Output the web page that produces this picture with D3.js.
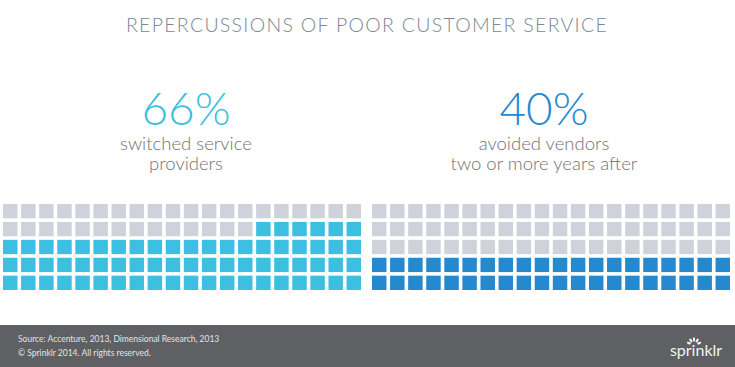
<!DOCTYPE html>
<html>
<head>
<meta charset="utf-8">
<script src="https://cdn.jsdelivr.net/npm/d3@7"></script>
<style>
  body { margin: 0; background: #fff; }
  svg { display: block; font-family: Lato, "Open Sans", sans-serif; }
  .light { font-family: "Lato Light", "Open Sans Light", Lato, sans-serif; font-weight: 300; }
</style>
</head>
<body>
<div id="chart"></div>
<script>
// data
const stats = [66, 40];
const statLabels = [
    ["switched service", "providers"],
    ["avoided vendors", "two or more years after"]
];
const statColors = ["#3cbfe0", "#2589cf"];
const emptyColor = "#cfd2da";
const title = "REPERCUSSIONS OF POOR CUSTOMER SERVICE";
const footerLines = ["Source: Accenture, 2013, Dimensional Research, 2013", "\u00a9 Sprinklr 2014. All rights reserved."];

const width = 735, height = 367;
const cols = 20, rows = 5;

const svg = d3.select("#chart")
    .append("svg")
    .attr("width", width)
    .attr("height", height);

svg.append("rect")
    .attr("width", width)
    .attr("height", height)
    .attr("fill", "#fff");

// title
svg.append("text")
    .attr("class", "light")
    .attr("x", 367)
    .attr("y", 32)
    .attr("text-anchor", "middle")
    .attr("fill", "#7b8793")
    .style("font-size", "19.5px")
    .style("letter-spacing", "1.3px")
    .text(title);

// each panel: big number, label, waffle
const panels = [
    { cx: 186, x0: 3, x1: 361 },
    { cx: 544, x0: 372, x1: 730 }
];

const y = d3.scaleBand()
    .domain(d3.range(rows))
    .range([204, 290])
    .paddingInner(0.2);

stats.forEach((value, p) => {
    const panel = panels[p];
    const g = svg.append("g");

    g.append("text")
        .attr("class", "light")
        .attr("x", panel.cx)
        .attr("y", 125)
        .attr("text-anchor", "middle")
        .attr("fill", statColors[p])
        .style("font-size", "46px")
        .text(value + "%");

    statLabels[p].forEach((line, i) => {
        g.append("text")
            .attr("class", "light")
            .attr("x", panel.cx)
            .attr("y", 150 + i * 20)
            .attr("text-anchor", "middle")
            .attr("fill", "#727274")
            .style("font-size", "18.5px")
            .text(line);
    });

    const x = d3.scaleBand()
        .domain(d3.range(cols))
        .range([panel.x0, panel.x1])
        .paddingInner(0.2);

    // fill from bottom-right, right to left, bottom row up
    const cells = d3.range(cols * rows).map(i => ({
        col: cols - 1 - (i % cols),
        row: rows - 1 - Math.floor(i / cols),
        on: i < value
    }));

    g.selectAll("rect.cell")
        .data(cells)
        .join("rect")
        .attr("class", "cell")
        .attr("x", d => x(d.col))
        .attr("y", d => y(d.row))
        .attr("width", x.bandwidth())
        .attr("height", y.bandwidth())
        .attr("fill", d => d.on ? statColors[p] : emptyColor);
});

// footer
svg.append("rect")
    .attr("x", 0)
    .attr("y", 325)
    .attr("width", width)
    .attr("height", height - 325)
    .attr("fill", "#5e6064");

footerLines.forEach((line, i) => {
    svg.append("text")
        .attr("x", 18)
        .attr("y", 342 + i * 13.5)
        .attr("fill", "#e2e3e5")
        .style("font-size", "8.5px")
        .text(line);
});

// logo: small burst above the word
const logo = svg.append("g").attr("transform", "translate(694,345)");
[-70, -35, 0, 35, 70].forEach(a => {
    logo.append("ellipse")
        .attr("cx", 0)
        .attr("cy", -5.5)
        .attr("rx", 1.1)
        .attr("ry", 2.2)
        .attr("fill", "#f2f2f2")
        .attr("transform", `rotate(${a})`);
});
svg.append("text")
    .attr("x", 696)
    .attr("y", 356)
    .attr("text-anchor", "middle")
    .attr("fill", "#f2f2f2")
    .style("font-size", "16px")
    .text("sprinklr");
</script>
</body>
</html>
